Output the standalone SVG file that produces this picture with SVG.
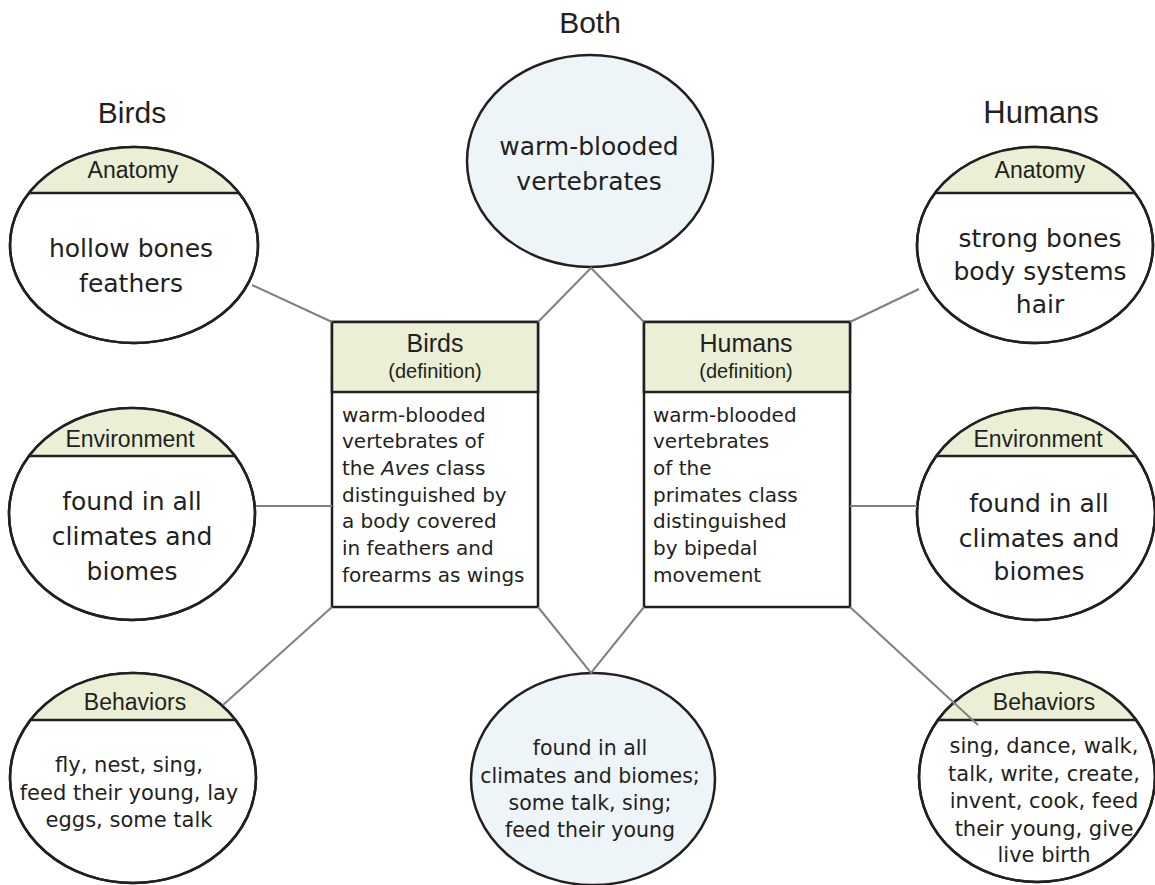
<svg xmlns="http://www.w3.org/2000/svg" width="1155" height="885" viewBox="0 0 1155 885">
<style>
.bg{fill:#ffffff}
.oval{fill:#ffffff;stroke:#231f20;stroke-width:2.5}
.both{fill:#eef5f8;stroke:#231f20;stroke-width:2.5}
.cap{fill:#eaefd6;stroke:none}
.sep{stroke:#231f20;stroke-width:2.5}
.box{fill:#ffffff;stroke:#231f20;stroke-width:2.5}
.hdr{fill:#eaefd6;stroke:#231f20;stroke-width:2.5}
.conn{stroke:#808080;stroke-width:2;fill:none}
.title{font-family:"Liberation Sans",Arial,sans-serif;font-size:30px;fill:#231f20;text-anchor:middle}
.lab{font-family:"Liberation Sans",Arial,sans-serif;font-size:23px;fill:#231f20;text-anchor:middle}
.bh1{font-family:"Liberation Sans",Arial,sans-serif;font-size:25px;fill:#231f20;text-anchor:middle}
.bh2{font-family:"Liberation Sans",Arial,sans-serif;font-size:20px;fill:#231f20;text-anchor:middle}
.body{font-family:"DejaVu Sans",sans-serif;fill:#231f20;text-anchor:middle}
.def{font-family:"DejaVu Sans",sans-serif;font-size:20px;fill:#231f20}
</style>
<rect class="bg" x="0" y="0" width="1155" height="885"/>

<g id="titles">
<text class="title" x="132" y="123">Birds</text>
<text class="title" x="590" y="33">Both</text>
<text class="title" x="1041" y="123" style="font-size:31px">Humans</text>
</g>

<g id="both-top">
<ellipse class="both" cx="590" cy="161" rx="123" ry="106"/>
<text class="body" style="font-size:25px" x="589" y="155">warm-blooded</text>
<text class="body" style="font-size:25px" x="589" y="190">vertebrates</text>
</g>

<g id="birds-anatomy">
<ellipse class="oval" cx="134" cy="245" rx="124" ry="98"/>
<path class="cap" d="M29,193 A124,98 0 0 1 239,193 Z"/>
<line class="sep" x1="29" y1="193" x2="239" y2="193"/>
<ellipse cx="134" cy="245" rx="124" ry="98" fill="none" stroke="#231f20" stroke-width="2.5"/>
<text class="lab" x="133" y="178">Anatomy</text>
<text class="body" style="font-size:25px" x="131" y="257">hollow bones</text>
<text class="body" style="font-size:25px" x="131" y="292">feathers</text>
</g>

<g id="birds-environment">
<ellipse class="oval" cx="132" cy="514" rx="123" ry="106"/>
<path class="cap" d="M29,456 A123,106 0 0 1 235,456 Z"/>
<line class="sep" x1="29" y1="456" x2="235" y2="456"/>
<ellipse cx="132" cy="514" rx="123" ry="106" fill="none" stroke="#231f20" stroke-width="2.5"/>
<text class="lab" x="130" y="447">Environment</text>
<text class="body" style="font-size:25px" x="132" y="510">found in all</text>
<text class="body" style="font-size:25px" x="132" y="545">climates and</text>
<text class="body" style="font-size:25px" x="132" y="580">biomes</text>
</g>

<g id="birds-behaviors">
<ellipse class="oval" cx="133" cy="778" rx="123" ry="105"/>
<path class="cap" d="M30.5,720 A123,105 0 0 1 235.5,720 Z"/>
<line class="sep" x1="30.5" y1="720" x2="235.5" y2="720"/>
<ellipse cx="133" cy="778" rx="123" ry="105" fill="none" stroke="#231f20" stroke-width="2.5"/>
<text class="lab" x="135" y="710">Behaviors</text>
<text class="body" style="font-size:21px" x="129" y="772">fly, nest, sing,</text>
<text class="body" style="font-size:21px" x="129" y="800">feed their young, lay</text>
<text class="body" style="font-size:21px" x="129" y="827">eggs, some talk</text>
</g>

<g id="birds-definition">
<rect class="box" x="332" y="322" width="206" height="285"/>
<rect class="hdr" x="332" y="322" width="206" height="70"/>
<text class="bh1" x="435" y="352">Birds</text>
<text class="bh2" x="435" y="378">(definition)</text>
<text class="def" x="342" y="422">warm-blooded</text>
<text class="def" x="342" y="448">vertebrates of</text>
<text class="def" x="342" y="475">the <tspan font-style="italic">Aves</tspan> class</text>
<text class="def" x="342" y="502">distinguished by</text>
<text class="def" x="342" y="528">a body covered</text>
<text class="def" x="342" y="555">in feathers and</text>
<text class="def" x="342" y="582">forearms as wings</text>
</g>

<g id="humans-definition">
<rect class="box" x="644" y="322" width="206" height="285"/>
<rect class="hdr" x="644" y="322" width="206" height="70"/>
<text class="bh1" x="746" y="352">Humans</text>
<text class="bh2" x="746" y="378">(definition)</text>
<text class="def" x="653" y="422">warm-blooded</text>
<text class="def" x="653" y="448">vertebrates</text>
<text class="def" x="653" y="475">of the</text>
<text class="def" x="653" y="502">primates class</text>
<text class="def" x="653" y="528">distinguished</text>
<text class="def" x="653" y="555">by bipedal</text>
<text class="def" x="653" y="582">movement</text>
</g>

<g id="both-bottom">
<ellipse class="both" cx="593" cy="779" rx="122" ry="106"/>
<text class="body" style="font-size:20.5px" x="590" y="755">found in all</text>
<text class="body" style="font-size:20.5px" x="590" y="783">climates and biomes;</text>
<text class="body" style="font-size:20.5px" x="590" y="810">some talk, sing;</text>
<text class="body" style="font-size:20.5px" x="590" y="837">feed their young</text>
</g>

<g id="humans-anatomy">
<ellipse class="oval" cx="1035" cy="245" rx="118" ry="98"/>
<path class="cap" d="M935,193 A118,98 0 0 1 1135,193 Z"/>
<line class="sep" x1="935" y1="193" x2="1135" y2="193"/>
<ellipse cx="1035" cy="245" rx="118" ry="98" fill="none" stroke="#231f20" stroke-width="2.5"/>
<text class="lab" x="1040" y="178">Anatomy</text>
<text class="body" style="font-size:25px" x="1040" y="247">strong bones</text>
<text class="body" style="font-size:25px" x="1040" y="280">body systems</text>
<text class="body" style="font-size:25px" x="1040" y="313">hair</text>
</g>

<g id="humans-environment">
<ellipse class="oval" cx="1036" cy="514" rx="119" ry="106"/>
<path class="cap" d="M936.4,456 A119,106 0 0 1 1135.6,456 Z"/>
<line class="sep" x1="936.4" y1="456" x2="1135.6" y2="456"/>
<ellipse cx="1036" cy="514" rx="119" ry="106" fill="none" stroke="#231f20" stroke-width="2.5"/>
<text class="lab" x="1038" y="447">Environment</text>
<text class="body" style="font-size:25px" x="1039" y="512">found in all</text>
<text class="body" style="font-size:25px" x="1039" y="547">climates and</text>
<text class="body" style="font-size:25px" x="1039" y="580">biomes</text>
</g>

<g id="humans-behaviors">
<ellipse class="oval" cx="1037" cy="777" rx="118" ry="105"/>
<path class="cap" d="M938,720 A118,105 0 0 1 1136,720 Z"/>
<line class="sep" x1="938" y1="720" x2="1136" y2="720"/>
<ellipse cx="1037" cy="777" rx="118" ry="105" fill="none" stroke="#231f20" stroke-width="2.5"/>
<text class="lab" x="1044" y="710">Behaviors</text>
<text class="body" style="font-size:21px" x="1044" y="753">sing, dance, walk,</text>
<text class="body" style="font-size:21px" x="1044" y="781">talk, write, create,</text>
<text class="body" style="font-size:21px" x="1044" y="808">invent, cook, feed</text>
<text class="body" style="font-size:21px" x="1044" y="836">their young, give</text>
<text class="body" style="font-size:21px" x="1044" y="862">live birth</text>
</g>

<g id="connectors">
<line class="conn" x1="252" y1="285" x2="332" y2="322"/>
<line class="conn" x1="256" y1="506" x2="332" y2="506"/>
<line class="conn" x1="223" y1="705" x2="332" y2="607"/>
<polyline class="conn" points="538,322 591,268 644,322"/>
<polyline class="conn" points="538,607 591,673 644,607"/>
<line class="conn" x1="850" y1="322" x2="919" y2="289"/>
<line class="conn" x1="850" y1="506" x2="917" y2="506"/>
<line class="conn" x1="850" y1="607" x2="978" y2="725"/>
</g>
</svg>
